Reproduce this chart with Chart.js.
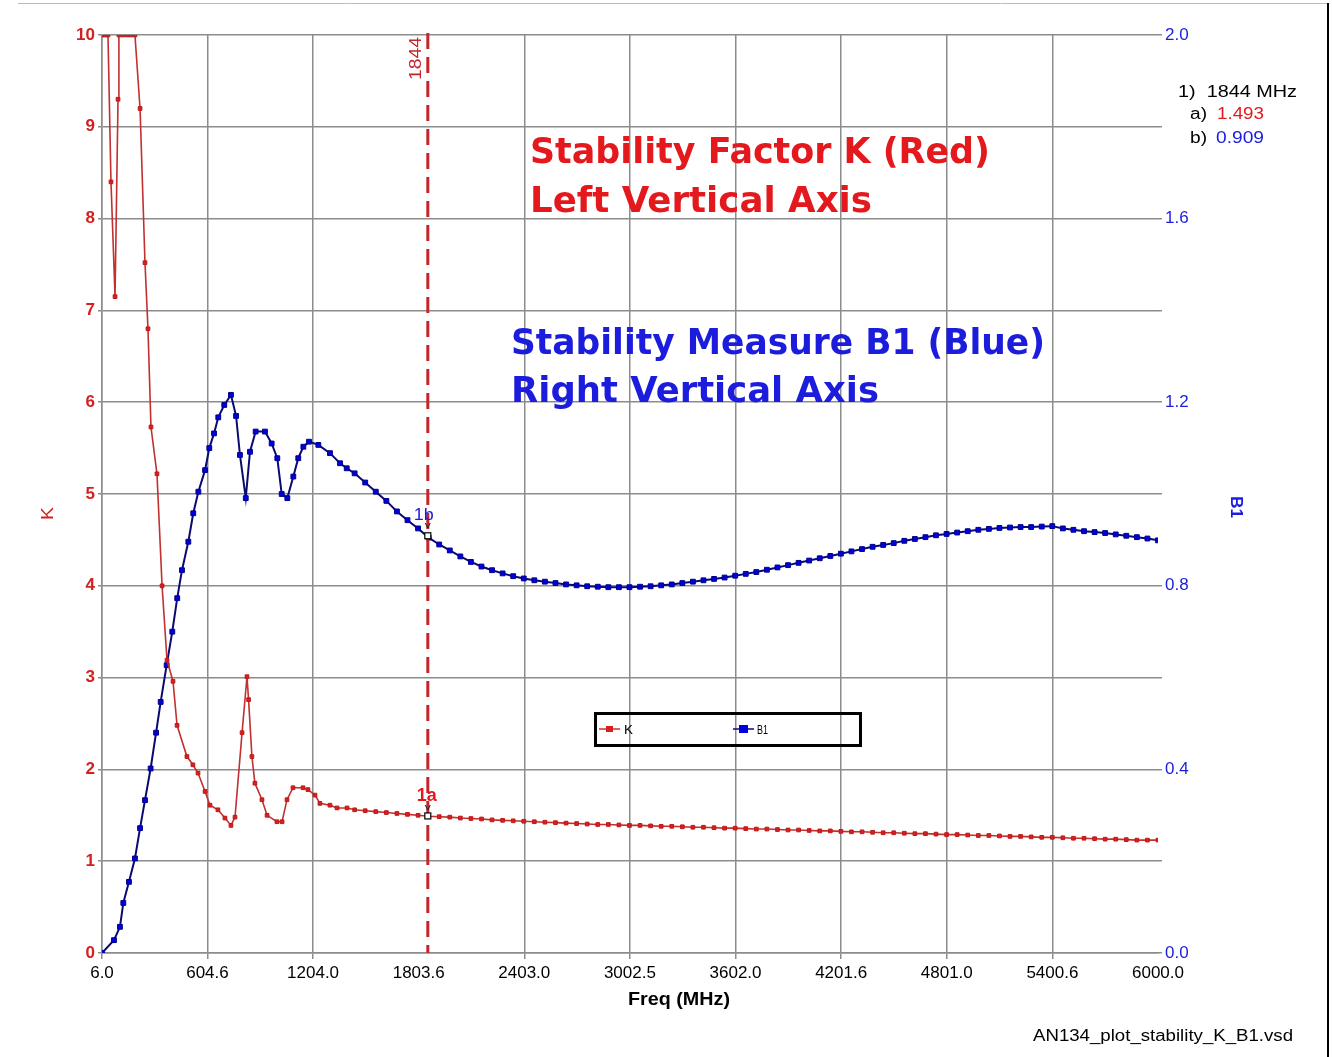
<!DOCTYPE html>
<html>
<head>
<meta charset="utf-8">
<script src="https://cdn.jsdelivr.net/npm/chart.js@4.4.1/dist/chart.umd.min.js"></script>
<style>
  html, body { margin: 0; padding: 0; background: #fff; }
  #wrap { width: 1332px; height: 1057px; position: relative; }
</style>
</head>
<body>
<div id="wrap"><canvas id="stability-chart" width="1332" height="1057"></canvas></div>
<script>
// tick values on the frequency axis (MHz)
var xTicks = [6.0, 604.6, 1204.0, 1803.6, 2403.0, 3002.5, 3602.0, 4201.6, 4801.0, 5400.6, 6000.0];

// K (left axis) - low band read point by point
var kLowFreq = [6, 23, 40, 57, 80, 97, 102, 125, 148, 171, 193, 222, 250, 267, 284, 318, 347, 375, 409, 432,
  488, 522, 551, 591, 619, 664, 704, 738, 761, 801, 829, 838, 857, 874, 914, 943, 999, 1028, 1056, 1090,
  1147, 1175, 1215, 1243, 1300, 1340, 1397];
var kLow = [10, 10, 10, 8.4, 7.15, 9.3, 10, 10, 10, 10, 10, 9.2, 7.52, 6.8, 5.73, 5.22, 4.0, 3.19, 2.96, 2.48,
  2.14, 2.05, 1.96, 1.76, 1.61, 1.56, 1.47, 1.39, 1.48, 2.40, 3.01, 2.76, 2.14, 1.85, 1.67, 1.50, 1.43, 1.43, 1.67, 1.80,
  1.80, 1.78, 1.72, 1.63, 1.61, 1.58, 1.58];

// B1 (right axis) - low band
var b1LowFreq = [6, 74, 108, 127, 159, 193, 222, 250, 282, 313, 339, 373, 405, 433, 460, 496, 524, 553, 591, 615,
  642, 666, 700, 738, 767, 789, 822, 846, 878, 931, 969, 1001, 1026, 1058, 1092, 1120, 1149, 1181, 1234, 1300,
  1357, 1395];
var b1Low = [0.0, 0.028, 0.057, 0.109, 0.155, 0.206, 0.272, 0.333, 0.402, 0.48, 0.547, 0.627, 0.70, 0.773, 0.834, 0.896, 0.958, 1.005, 1.052, 1.10,
  1.132, 1.167, 1.194, 1.216, 1.17, 1.085, 0.991, 1.092, 1.136, 1.136, 1.11, 1.078, 1.0, 0.991, 1.038, 1.078, 1.103, 1.114, 1.107, 1.089,
  1.067, 1.056];

// upper band, shared frequencies
var tailFreq = [1440, 1500, 1560, 1620, 1680, 1740, 1800, 1860, 1920, 1980,
  2040, 2100, 2160, 2220, 2280, 2340, 2400, 2460, 2520, 2580,
  2640, 2700, 2760, 2820, 2880, 2940, 3000, 3060, 3120, 3180,
  3240, 3300, 3360, 3420, 3480, 3540, 3600, 3660, 3720, 3780,
  3840, 3900, 3960, 4020, 4080, 4140, 4200, 4260, 4320, 4380,
  4440, 4500, 4560, 4620, 4680, 4740, 4800, 4860, 4920, 4980,
  5040, 5100, 5160, 5220, 5280, 5340, 5400, 5460, 5520, 5580,
  5640, 5700, 5760, 5820, 5880, 5940, 6000];
var kTail = [1.56, 1.55, 1.54, 1.53, 1.52, 1.51, 1.50, 1.49, 1.485, 1.48,
  1.47, 1.465, 1.46, 1.45, 1.445, 1.44, 1.435, 1.43, 1.425, 1.42,
  1.415, 1.41, 1.405, 1.40, 1.40, 1.395, 1.39, 1.39, 1.385, 1.38,
  1.38, 1.375, 1.37, 1.37, 1.365, 1.36, 1.36, 1.355, 1.35, 1.35,
  1.345, 1.34, 1.34, 1.335, 1.33, 1.33, 1.325, 1.32, 1.32, 1.315,
  1.31, 1.31, 1.305, 1.30, 1.30, 1.295, 1.29, 1.29, 1.285, 1.28,
  1.28, 1.275, 1.27, 1.27, 1.265, 1.26, 1.26, 1.255, 1.25, 1.25,
  1.245, 1.24, 1.24, 1.235, 1.23, 1.23, 1.23];
var b1Tail = [1.045, 1.025, 1.005, 0.985, 0.962, 0.943, 0.925, 0.905, 0.89, 0.877,
  0.864, 0.852, 0.842, 0.834, 0.827, 0.821, 0.816, 0.812, 0.809, 0.806,
  0.803, 0.801, 0.799, 0.798, 0.797, 0.797, 0.797, 0.798, 0.799, 0.801,
  0.803, 0.806, 0.809, 0.812, 0.815, 0.818, 0.822, 0.826, 0.830, 0.835,
  0.840, 0.845, 0.850, 0.855, 0.860, 0.865, 0.870, 0.875, 0.880, 0.885,
  0.889, 0.893, 0.898, 0.902, 0.906, 0.910, 0.913, 0.916, 0.919, 0.922,
  0.924, 0.926, 0.927, 0.928, 0.928, 0.929, 0.930, 0.925, 0.922, 0.919,
  0.917, 0.915, 0.912, 0.909, 0.906, 0.903, 0.899];

// marker readout
var markerFreq = 1844;
var markerK = 1.493;
var markerB1 = 0.909;

var kFreq = kLowFreq.concat(tailFreq);
var kValues = kLow.concat(kTail);
var b1Freq = b1LowFreq.concat(tailFreq);
var b1Values = b1Low.concat(b1Tail);

function toPoints(xs, ys) {
  return xs.map(function(x, i) { return { x: x, y: ys[i] }; });
}

var GRID = '#8c8c8c';
var RED_TXT = '#e3191d';
var BLUE_TXT = '#1c1cdc';

// draws a string squeezed/stretched to a given width
function fitText(ctx, text, x, y, w, font, color, rot) {
  ctx.save();
  ctx.font = font;
  var m = ctx.measureText(text).width;
  ctx.translate(x, y);
  if (rot) ctx.rotate(rot);
  ctx.scale(w / m, 1);
  ctx.fillStyle = color;
  ctx.textBaseline = 'alphabetic';
  ctx.textAlign = 'left';
  ctx.fillText(text, 0, 0);
  ctx.restore();
}

var overlay = {
  id: 'overlay',
  afterDatasetsDraw: function(chart) {
    var ctx = chart.ctx;
    var area = chart.chartArea;
    var xs = chart.scales.x, yk = chart.scales.yK, yb = chart.scales.yB;
    var mx = xs.getPixelForValue(markerFreq) + 2;

    // dashed marker line
    ctx.save();
    ctx.strokeStyle = '#c4262b';
    ctx.lineWidth = 3;
    ctx.setLineDash([16, 8]);
    ctx.beginPath();
    ctx.moveTo(mx, area.top - 2);
    ctx.lineTo(mx, area.bottom);
    ctx.stroke();
    ctx.restore();

    fitText(ctx, '1844', mx - 7, 80, 43, '16px "Liberation Sans"', '#c4262b', -Math.PI / 2);

    // marker points
    var pk = yk.getPixelForValue(markerK);
    var pb = yb.getPixelForValue(markerB1);
    ctx.save();
    ctx.lineWidth = 1.2;
    ctx.strokeStyle = '#000';
    ctx.fillStyle = '#fff';
    [pk, pb].forEach(function(py) {
      ctx.fillRect(mx - 3, py - 3, 6, 6);
      ctx.strokeRect(mx - 3, py - 3, 6, 6);
    });
    ctx.restore();
    fitText(ctx, '1b', mx - 14, pb - 16, 20, '17px "Liberation Sans"', BLUE_TXT);
    fitText(ctx, 'v', mx - 3, pb - 8, 6, '9px "Liberation Sans"', '#222');
    fitText(ctx, '1a', mx - 11, pk - 15, 20, 'bold 18px "Liberation Sans"', RED_TXT);
    fitText(ctx, 'v', mx - 3, pk - 6, 6, '9px "Liberation Sans"', '#222');
  },
  afterDraw: function(chart) {
    var ctx = chart.ctx;

    // frame of the picture
    ctx.save();
    ctx.strokeStyle = '#bbb';
    ctx.lineWidth = 1;
    ctx.beginPath();
    ctx.moveTo(18, 3.5);
    ctx.lineTo(1328, 3.5);
    ctx.stroke();
    ctx.strokeStyle = '#000';
    ctx.lineWidth = 2;
    ctx.beginPath();
    ctx.moveTo(1328, 3);
    ctx.lineTo(1328, 1057);
    ctx.stroke();
    ctx.restore();

    // big annotations
    var big = 'bold 36px "DejaVu Sans"';
    fitText(ctx, 'Stability Factor K (Red)', 530, 163, 460, big, RED_TXT);
    fitText(ctx, 'Left Vertical Axis', 530, 212, 342, big, RED_TXT);
    fitText(ctx, 'Stability Measure B1 (Blue)', 511, 354, 534, big, BLUE_TXT);
    fitText(ctx, 'Right Vertical Axis', 511, 402, 368, big, BLUE_TXT);

    // readout
    fitText(ctx, '1)  1844 MHz', 1178, 97, 119, '16px "Liberation Sans"', '#000');
    fitText(ctx, 'a)', 1190, 119, 17, '16px "Liberation Sans"', '#000');
    fitText(ctx, markerK.toFixed(3), 1217, 119, 47, '16px "Liberation Sans"', RED_TXT);
    fitText(ctx, 'b)', 1190, 143, 17, '16px "Liberation Sans"', '#000');
    fitText(ctx, markerB1.toFixed(3), 1216, 143, 48, '16px "Liberation Sans"', BLUE_TXT);

    // axis titles
    fitText(ctx, 'K', 53, 520, 13, '17px "Liberation Sans"', '#d42020', -Math.PI / 2);
    fitText(ctx, 'B1', 1231, 496, 22, 'bold 17px "Liberation Sans"', BLUE_TXT, Math.PI / 2);
    fitText(ctx, 'Freq (MHz)', 628, 1005, 102, 'bold 18px "Liberation Sans"', '#000');

    // file name
    fitText(ctx, 'AN134_plot_stability_K_B1.vsd', 1033, 1041, 260, '16px "Liberation Sans"', '#000');

    // legend box
    ctx.save();
    ctx.strokeStyle = '#000';
    ctx.lineWidth = 3;
    ctx.strokeRect(595.5, 713.5, 265, 32);
    ctx.lineWidth = 1.5;
    ctx.strokeStyle = '#c83232';
    ctx.beginPath(); ctx.moveTo(599, 729); ctx.lineTo(620, 729); ctx.stroke();
    ctx.fillStyle = '#d42020';
    ctx.fillRect(606, 726, 7, 6);
    ctx.strokeStyle = '#0a0a80';
    ctx.beginPath(); ctx.moveTo(733, 729); ctx.lineTo(754, 729); ctx.stroke();
    ctx.fillStyle = '#0000dd';
    ctx.fillRect(739, 725, 9, 8);
    ctx.restore();
    fitText(ctx, 'K', 624, 734, 9, '12px "Liberation Sans"', '#000');
    fitText(ctx, 'B1', 757, 734, 11, '12px "Liberation Sans"', '#000');
  }
};

new Chart(document.getElementById('stability-chart'), {
  type: 'line',
  data: {
    datasets: [{
      label: 'K',
      data: toPoints(kFreq, kValues),
      yAxisID: 'yK',
      borderColor: '#c23030',
      borderWidth: 1.6,
      pointStyle: 'rect',
      pointRadius: 2.6,
      pointBackgroundColor: '#d42020',
      pointBorderColor: '#c01818',
      pointBorderWidth: 1,
      tension: 0,
      fill: false
    }, {
      label: 'B1',
      data: toPoints(b1Freq, b1Values),
      yAxisID: 'yB',
      borderColor: '#0a0a70',
      borderWidth: 2,
      pointStyle: 'rect',
      pointRadius: 3.4,
      pointBackgroundColor: '#0000dd',
      pointBorderColor: '#00008a',
      pointBorderWidth: 1,
      tension: 0,
      fill: false
    }]
  },
  options: {
    responsive: false,
    animation: false,
    layout: { padding: { top: 35 } },
    plugins: { legend: { display: false }, tooltip: { enabled: false } },
    scales: {
      x: {
        type: 'linear',
        min: 6,
        max: 6000,
        afterBuildTicks: function(axis) {
          axis.ticks = xTicks.map(function(v) { return { value: v }; });
        },
        afterFit: function(s) { s.height = 104; },
        ticks: {
          autoSkip: false,
          maxRotation: 0,
          padding: 4,
          color: '#000',
          font: { family: 'Liberation Sans', size: 17 },
          callback: function(v) { return Number(v).toFixed(1); }
        },
        grid: {
          // the 6000 line is not drawn and the 1803.6 line sits under the marker
          color: function(c) {
            var v = c.tick ? c.tick.value : null;
            return (v === 6000 || v === 1803.6) ? 'rgba(0,0,0,0)' : GRID;
          },
          lineWidth: 1.5,
          tickLength: 6
        },
        border: { color: GRID, width: 1.5 }
      },
      yK: {
        position: 'left',
        min: 0,
        max: 10,
        afterFit: function(s) { s.width = 102; },
        ticks: {
          stepSize: 1,
          padding: 3,
          color: '#d42020',
          font: { family: 'Liberation Sans', size: 17, weight: 'bold' }
        },
        grid: { color: GRID, lineWidth: 1.5, tickLength: 4 },
        border: { color: GRID, width: 1.5 }
      },
      yB: {
        position: 'right',
        min: 0,
        max: 2,
        afterFit: function(s) { s.width = 174; },
        ticks: {
          stepSize: 0.2,
          padding: 3,
          color: BLUE_TXT,
          font: { family: 'Liberation Sans', size: 17 },
          callback: function(v, i) { return i % 2 === 0 ? Number(v).toFixed(1) : ''; }
        },
        grid: { drawOnChartArea: false, color: GRID, lineWidth: 1.5, tickLength: 4 },
        border: { display: false }
      }
    }
  },
  plugins: [overlay]
});
</script>
</body>
</html>
